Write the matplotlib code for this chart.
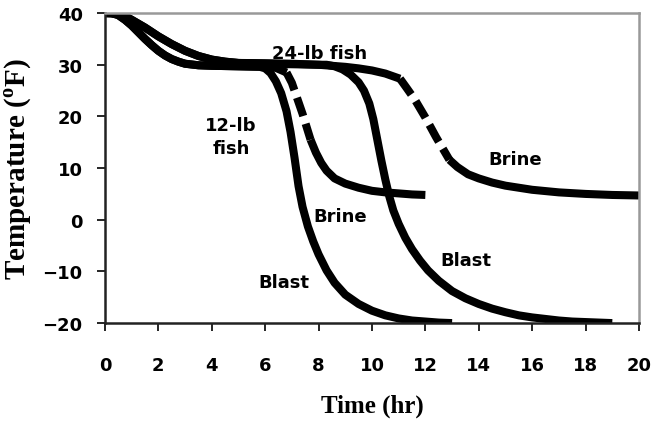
import numpy as np
import matplotlib.pyplot as plt

# 12-lb fish
t12_blast = [0, 0.25, 0.5, 0.75, 1, 1.25, 1.5, 1.75, 2, 2.25, 2.5, 2.75, 3, 3.5, 4, 5,
             5.8, 6.0, 6.2, 6.4, 6.6, 6.8, 6.95, 7.1, 7.25, 7.4, 7.6, 7.8, 8.0, 8.3, 8.6,
             9.0, 9.5, 10, 10.5, 11, 11.5, 12, 12.5, 13]
T12_blast = [40, 40, 39.6, 38.7, 37.6, 36.3, 35, 33.8, 32.7, 31.8, 31.1, 30.6, 30.2, 29.9,
             29.8, 29.7, 29.6, 29.3, 28.4, 26.8, 24.5, 21, 17, 12, 6.5, 2.5, -1.3, -4.2,
             -6.7, -9.8, -12.2, -14.5, -16.3, -17.6, -18.5, -19.1, -19.5, -19.7, -19.9, -20]

t12_brine = [0, 0.25, 0.5, 0.75, 1, 1.25, 1.5, 1.75, 2, 2.25, 2.5, 2.75, 3, 3.5, 4, 5,
             6, 6.4, 6.8, 7.0, 7.2, 7.4, 7.7, 7.9, 8.1, 8.3, 8.6, 9, 9.5, 10, 10.5, 11,
             11.5, 12]
T12_brine = [40, 40, 39.6, 38.7, 37.6, 36.3, 35, 33.8, 32.7, 31.8, 31.1, 30.6, 30.2, 29.9,
             29.8, 29.7, 29.6, 29.4, 28.5, 26.5, 23.5, 20.5, 15.5, 13, 11, 9.5, 8, 7, 6.2,
             5.6, 5.3, 5.1, 4.9, 4.8]

# 24-lb fish
t24_blast = [0, 0.5, 0.75, 1, 1.5, 2, 2.5, 3, 3.5, 4, 4.5, 5, 6, 7, 8, 8.3, 8.6, 8.9,
             9.2, 9.5, 9.7, 9.9, 10.05, 10.2, 10.35, 10.5, 10.65, 10.8, 11, 11.25, 11.5,
             11.8, 12.1, 12.5, 13, 13.5, 14, 14.5, 15, 15.5, 16, 16.5, 17, 17.5, 18,
             18.5, 19]
T24_blast = [40, 39.9, 39.4, 38.7, 37.2, 35.5, 34, 32.7, 31.7, 31, 30.6, 30.35, 30.2,
             30.1, 30, 30, 29.7, 29.1, 28.1, 26.6, 25, 22.5, 19.5, 15.5, 11.5, 7.8, 4.5,
             1.8, -0.8, -3.5, -5.7, -7.9, -9.8, -11.8, -13.8, -15.2, -16.3, -17.2, -17.9,
             -18.5, -18.9, -19.2, -19.5, -19.7, -19.8, -19.9, -20]

t24_brine = [0, 0.5, 0.75, 1, 1.5, 2, 2.5, 3, 3.5, 4, 4.5, 5, 6, 7, 8, 8.5, 9, 9.5, 10,
             10.5, 11.05, 11.3, 11.6, 12, 12.4, 12.9, 13.2, 13.6, 14, 14.5, 15, 15.5,
             16, 17, 18, 19, 20]
T24_brine = [40, 39.9, 39.4, 38.7, 37.2, 35.5, 34, 32.7, 31.7, 31, 30.6, 30.35, 30.3,
             30.2, 30, 29.8, 29.6, 29.3, 28.9, 28.3, 27.3, 25.5, 23.3, 19.8, 16, 11.6,
             10.2, 8.8, 8, 7.2, 6.6, 6.2, 5.8, 5.3, 5, 4.8, 4.7]

# time window where the brine curves look broken
brine12_dash = (6.8, 7.7)
brine24_dash = (11.05, 12.9)

plt.rcParams['mathtext.fontset'] = 'custom'
plt.rcParams['mathtext.bf'] = 'Liberation Serif:bold'
plt.rcParams['mathtext.rm'] = 'Liberation Serif:bold'

fig = plt.figure(figsize=(6.52, 4.27), dpi=100)
ax = fig.add_axes([0.161, 0.241, 0.819, 0.726])

lw = 5.8
ax.plot(t12_blast, T12_blast, color='black', lw=lw, solid_capstyle='butt',
        solid_joinstyle='round')
ax.plot(t24_blast, T24_blast, color='black', lw=lw, solid_capstyle='butt',
        solid_joinstyle='round')


def brine(t, T, win):
    t = np.array(t)
    T = np.array(T)
    a, b = win
    m1 = t <= a
    m2 = (t >= a) & (t <= b)
    m3 = t >= b
    ax.plot(t[m1], T[m1], color='black', lw=lw, solid_capstyle='butt',
            solid_joinstyle='round')
    ax.plot(t[m2], T[m2], color='black', lw=lw, linestyle=(0, (2.4, 1.0)),
            dash_capstyle='butt')
    ax.plot(t[m3], T[m3], color='black', lw=lw, solid_capstyle='butt',
            solid_joinstyle='round')


brine(t12_brine, T12_brine, brine12_dash)
brine(t24_brine, T24_brine, brine24_dash)

lab = dict(fontsize=13, fontweight='bold', family='DejaVu Sans', ha='center', va='center')
ax.text(8.03, 32.3, '24-lb fish', **lab)
ax.text(4.72, 16.2, '12-lb\nfish', linespacing=1.35, **lab)
ax.text(8.8, 0.7, 'Brine', **lab)
ax.text(15.36, 11.7, 'Brine', **lab)
ax.text(6.7, -12, 'Blast', **lab)
ax.text(13.5, -7.8, 'Blast', **lab)

ax.set_xlim(0, 20)
ax.set_ylim(-20, 40)
ax.set_xticks(np.arange(0, 21, 2))
ax.set_yticks(np.arange(-20, 41, 10))
for s in ['left', 'bottom']:
    ax.spines[s].set_color('#222222')
    ax.spines[s].set_linewidth(1.8)
for s in ['top', 'right']:
    ax.spines[s].set_color('#999999')
    ax.spines[s].set_linewidth(1.8)
ax.tick_params(direction='out', length=6, width=1.2, color='black')
ax.tick_params(axis='x', pad=18)
ax.tick_params(axis='y', pad=10)
for lbl in ax.get_xticklabels() + ax.get_yticklabels():
    lbl.set_fontfamily('DejaVu Sans')
    lbl.set_fontweight('bold')
    lbl.set_fontsize(13)

ax.set_xlabel('Time (hr)', family='Liberation Serif', fontweight='bold', fontsize=18,
              labelpad=14)
ax.set_ylabel(r'Temperature ($^{\mathbf{o}}$F)', family='Liberation Serif',
              fontweight='bold', fontsize=21, labelpad=6)

plt.savefig('out.png', dpi=100)
